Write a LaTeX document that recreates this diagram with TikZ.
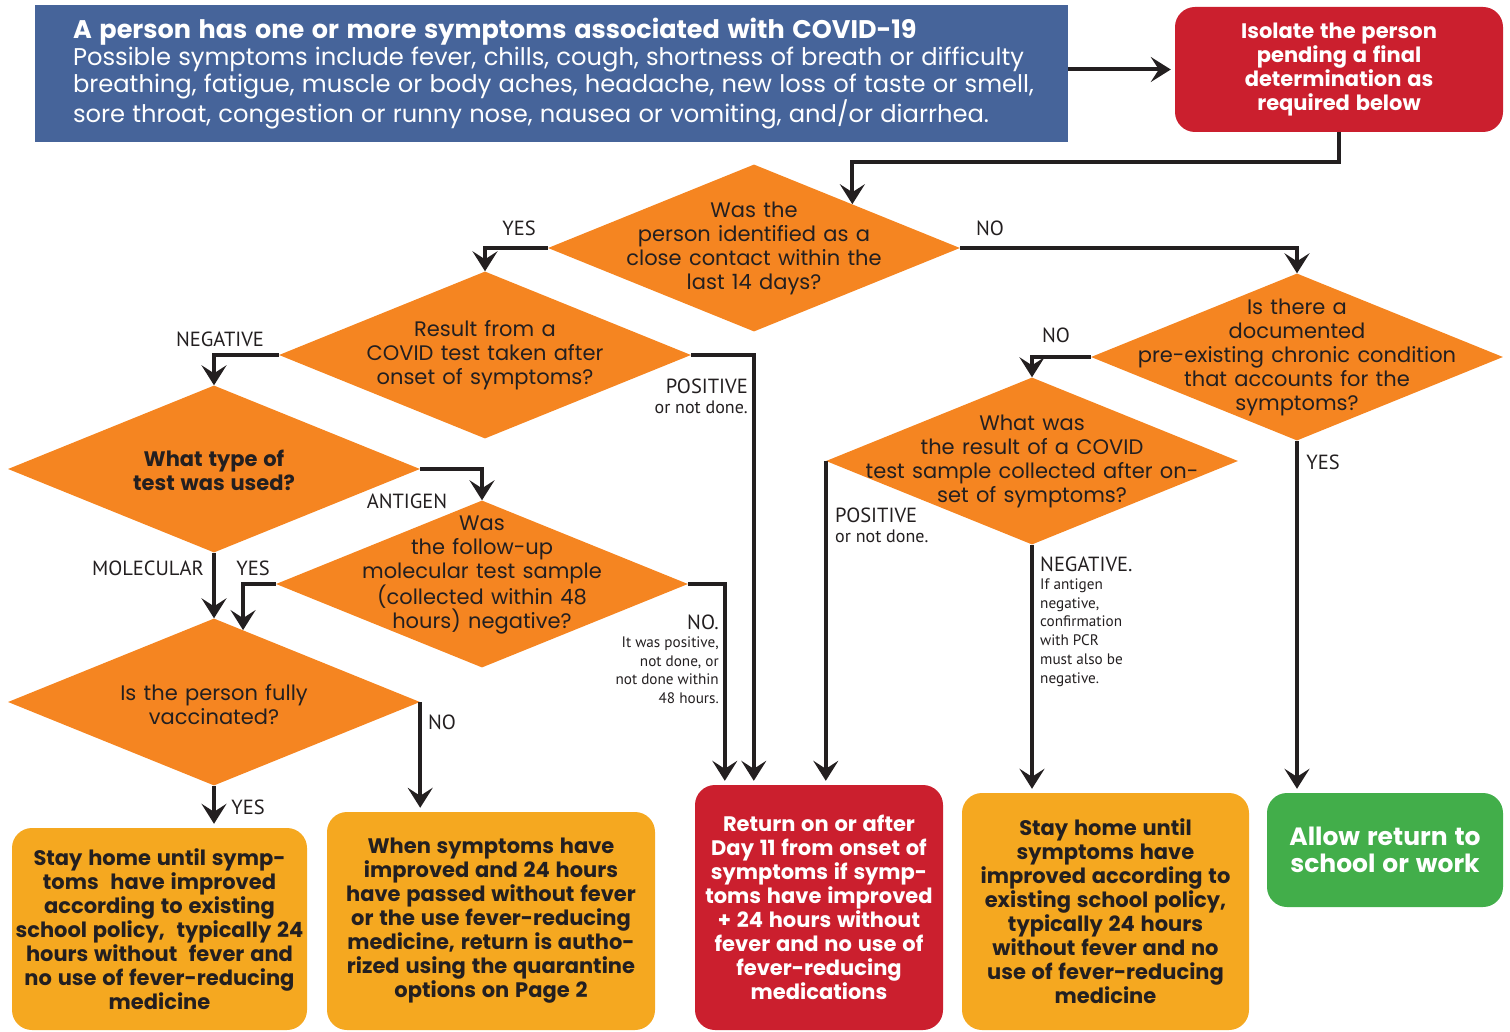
\documentclass[tikz,border=0pt]{standalone}
\usepackage{fontspec}
\setmainfont{Poppins}[WordSpace=1.3]
\newfontfamily\lblfont{PT Sans}
\usetikzlibrary{arrows.meta,positioning,shapes.geometric}

\definecolor{hdrblue}{HTML}{46649A}
\definecolor{isored}{HTML}{CB1F2E}
\definecolor{qorange}{HTML}{F58521}
\definecolor{amber}{HTML}{F5A820}
\definecolor{okgreen}{HTML}{42AE4A}
\definecolor{ink}{HTML}{231F20}

\begin{document}
\begin{tikzpicture}[
  x=1pt, y=-1pt,
  dia/.style={diamond, fill=qorange, inner sep=0pt, minimum width=412pt, minimum height=167pt},
  q/.style={align=center, text=ink, inner sep=0pt, font=\fontsize{21}{24}\selectfont},
  box/.style={rounded corners=20pt, align=center, inner sep=0pt, font=\bfseries\fontsize{21}{24}\selectfont},
  lbl/.style={text=ink, inner sep=0pt, font=\lblfont\fontsize{20.5}{22}\selectfont},
  sub/.style={text=ink, inner sep=0pt, font=\lblfont\fontsize{18}{21}\selectfont},
  note/.style={text=ink, inner sep=0pt, font=\lblfont\fontsize{15.2}{18.8}\selectfont},
  arr/.style={-{Stealth[length=20pt, width=25pt, inset=8pt]}, line width=4pt, draw=ink}
]
\useasboundingbox (0,0) rectangle (1510,1032);

% top row
\node[fill=hdrblue, text=white, align=left, anchor=center, minimum width=1033pt, minimum height=137pt,
      text width=957pt, inner xsep=38pt, inner ysep=0pt] (sym) at (551.5,73.5)
  {\lineskiplimit=-100pt\relax
   {\bfseries\fontsize{25.5}{29}\selectfont\spaceskip=0.3em\relax \mbox{A person has one or more symptoms associated with COVID-19}}\\[1pt]
   {\fontsize{24.2}{26.5}\selectfont\spaceskip=0.3em\relax \mbox{Possible symptoms include fever, chills, cough, shortness of breath or difficulty}\\
   \mbox{breathing, fatigue, muscle or body aches, headache, new loss of taste or smell,}\\
   \mbox{sore throat, congestion or runny nose, nausea or vomiting, and/or diarrhea.}}};
\node[box, fill=isored, text=white, minimum width=328pt, minimum height=125pt] (iso) at (1339,69.5)
  {Isolate the person\\pending a final\\determination as\\required below};

% questions
\node[dia, label={[q]center:{Was the\\person identified as a\\close contact within the\\last 14 days?}}] (close) at (754,248) {};
\node[dia, label={[q]center:{Result from a\\COVID test taken after\\onset of symptoms?}}] (result) at (485,355) {};
\node[dia, label={[q, font=\bfseries\fontsize{21}{24}\selectfont, yshift=-1pt]center:{What type of\\test was used?}}] (type) at (214,469) {};
\node[dia, label={[q, yshift=9pt]center:{Was\\the follow-up\\molecular test sample\\(collected within 48\\hours) negative?}}] (follow) at (482,584) {};
\node[dia, label={[q, yshift=-3pt]center:{Is the person fully\\vaccinated?}}] (vacc) at (214,702) {};
\node[dia, label={[q]center:{Is there a\\documented\\pre-existing chronic condition\\that accounts for the\\symptoms?}}] (chronic) at (1297,357) {};
\node[dia, label={[q]center:{What was\\the result of a COVID\\test sample collected after on-\\set of symptoms?}}] (covres) at (1032,461) {};

% outcomes
\node[box, fill=amber, text=ink, minimum width=295pt, minimum height=202pt] (stayA) at (159.5,929)
  {Stay home until symp-\\toms\ \ have improved\\according to existing\\school policy,\ \ typically 24\\hours without\ \ fever and\\no use of fever-reducing\\medicine};
\node[box, fill=amber, text=ink, minimum width=328pt, minimum height=218pt] (when) at (491,921)
  {When symptoms have\\improved and 24 hours\\have passed without fever\\or the use fever-reducing\\medicine, return is autho-\\rized using the quarantine\\options on Page 2};
\node[box, fill=isored, text=white, minimum width=248pt, minimum height=245pt] (ret) at (819,907.5)
  {Return on or after\\Day 11 from onset of\\symptoms if symp-\\toms have improved\\+ 24 hours without\\fever and no use of\\fever-reducing\\medications};
\node[box, fill=amber, text=ink, minimum width=287pt, minimum height=237pt] (stayB) at (1105.5,911.5)
  {Stay home until\\symptoms have\\improved according to\\existing school policy,\\typically 24 hours\\without fever and no\\use of fever-reducing\\medicine};
\node[box, fill=okgreen, text=white, minimum width=236pt, minimum height=114pt,
      font=\bfseries\fontsize{25}{27}\selectfont] (allow) at (1385,850)
  {Allow return to\\school or work};

% branch labels
\node[lbl] (yesA) at (519,228) {YES};
\node[lbl] (noA) at (990,228) {NO};
\node[lbl] (negA) at (220,339) {NEGATIVE};
\node[lbl, anchor=north east] (posA) at (748,379) {POSITIVE};
\node[sub, below=6pt of posA.south east, anchor=north east] (posAtxt) {or not done.};
\node[lbl] (antigen) at (407,501) {ANTIGEN};
\node[lbl] (molec) at (148,568) {MOLECULAR};
\node[lbl] (yesB) at (253,568) {YES};
\node[lbl, anchor=north east] (noB) at (719,615) {NO.};
\node[note, align=right, below=6pt of noB.south east, anchor=north east] (noBtxt)
  {It was positive,\\not done, or\\not done within\\48 hours.};
\node[lbl] (noC) at (442,722) {NO};
\node[lbl] (yesC) at (248,807) {YES};
\node[lbl] (noD) at (1056,335) {NO};
\node[lbl] (yesD) at (1323,462) {YES};
\node[lbl, anchor=north west] (posB) at (835,508) {POSITIVE};
\node[sub, below=6pt of posB.south west, anchor=north west] (posBtxt) {or not done.};
\node[lbl, anchor=north west] (negB) at (1040,557) {NEGATIVE.};
\node[note, align=left, below=6pt of negB.south west, anchor=north west] (negBtxt)
  {If antigen\\negative,\\confirmation\\with PCR\\must also be\\negative.};

% connectors
\draw[arr] (sym.east |- iso.west) -- ([xshift=-4pt]iso.west);
\draw[arr] (iso.south) -- ++(0,30) -| (close.24);
\draw[arr] (close.west) -| (result.north);
\draw[arr] (close.east) -| (chronic.north);
\draw[arr] (result.west) -| (type.north);
\draw[arr] (result.east) -| ([xshift=59pt, yshift=4pt]ret.north west);
\draw[arr] (type.east) -| (follow.north);
\draw[arr] (type.south) -- (vacc.north);
\draw[arr] (follow.west) -| (vacc.68);
\draw[arr] (follow.east) -| ([xshift=30pt, yshift=4pt]ret.north west);
\draw[arr] (vacc.south) -- ([yshift=4pt]vacc.south |- stayA.north);
\draw[arr] (vacc.east) -- ([yshift=4pt]vacc.east |- when.north);
\draw[arr] (chronic.west) -| (covres.north);
\draw[arr] (covres.west) -- ([yshift=4pt]covres.west |- ret.north);
\draw[arr] (covres.south) -- ([yshift=4pt]covres.south |- stayB.north);
\draw[arr] (chronic.south) -- ([yshift=4pt]chronic.south |- allow.north);
\end{tikzpicture}
\end{document}
